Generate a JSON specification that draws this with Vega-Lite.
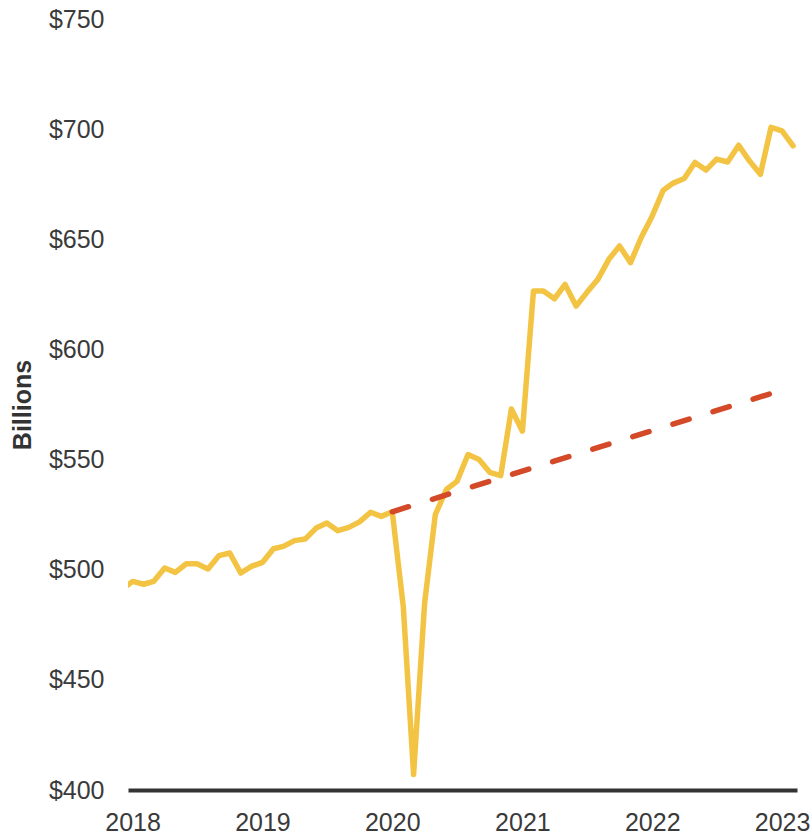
{
  "$schema": "https://vega.github.io/schema/vega-lite/v6.json",
  "width": 669,
  "height": 771,
  "autosize": {"type": "none"},
  "padding": {"left": 128, "top": 19, "right": 15, "bottom": 45},
  "background": "white",
  "config": {
    "view": {"stroke": null},
    "font": "Liberation Sans",
    "axis": {"labelColor": "#3a3a3a", "titleColor": "#333333", "labelFont": "Liberation Sans", "titleFont": "Liberation Sans"}
  },
  "datasets": {
    "actual": [
      {"date": "2017-12-01", "value": 491},
      {"date": "2018-01-01", "value": 494.7},
      {"date": "2018-02-01", "value": 493.4},
      {"date": "2018-03-01", "value": 494.7},
      {"date": "2018-04-01", "value": 500.8},
      {"date": "2018-05-01", "value": 498.8},
      {"date": "2018-06-01", "value": 502.7},
      {"date": "2018-07-01", "value": 502.7},
      {"date": "2018-08-01", "value": 500.3},
      {"date": "2018-09-01", "value": 506.4},
      {"date": "2018-10-01", "value": 507.6},
      {"date": "2018-11-01", "value": 498.5},
      {"date": "2018-12-01", "value": 501.5},
      {"date": "2019-01-01", "value": 503.3},
      {"date": "2019-02-01", "value": 509.5},
      {"date": "2019-03-01", "value": 510.6},
      {"date": "2019-04-01", "value": 513.2},
      {"date": "2019-05-01", "value": 513.9},
      {"date": "2019-06-01", "value": 518.9},
      {"date": "2019-07-01", "value": 521.2},
      {"date": "2019-08-01", "value": 517.7},
      {"date": "2019-09-01", "value": 519.2},
      {"date": "2019-10-01", "value": 521.7},
      {"date": "2019-11-01", "value": 526.1},
      {"date": "2019-12-01", "value": 524.2},
      {"date": "2020-01-01", "value": 526.3},
      {"date": "2020-02-01", "value": 483.3},
      {"date": "2020-03-01", "value": 407},
      {"date": "2020-04-01", "value": 484.8},
      {"date": "2020-05-01", "value": 525},
      {"date": "2020-06-01", "value": 536.4},
      {"date": "2020-07-01", "value": 540.1},
      {"date": "2020-08-01", "value": 552.3},
      {"date": "2020-09-01", "value": 550},
      {"date": "2020-10-01", "value": 544.2},
      {"date": "2020-11-01", "value": 542.7},
      {"date": "2020-12-01", "value": 573},
      {"date": "2021-01-01", "value": 562.9},
      {"date": "2021-02-01", "value": 626.5},
      {"date": "2021-03-01", "value": 626.5},
      {"date": "2021-04-01", "value": 623},
      {"date": "2021-05-01", "value": 629.5},
      {"date": "2021-06-01", "value": 619.7},
      {"date": "2021-07-01", "value": 625.8},
      {"date": "2021-08-01", "value": 631.8},
      {"date": "2021-09-01", "value": 640.9},
      {"date": "2021-10-01", "value": 647},
      {"date": "2021-11-01", "value": 639.4},
      {"date": "2021-12-01", "value": 650.8},
      {"date": "2022-01-01", "value": 660.6},
      {"date": "2022-02-01", "value": 672.3},
      {"date": "2022-03-01", "value": 675.5},
      {"date": "2022-04-01", "value": 677.6},
      {"date": "2022-05-01", "value": 684.9},
      {"date": "2022-06-01", "value": 681.4},
      {"date": "2022-07-01", "value": 686.4},
      {"date": "2022-08-01", "value": 685.1},
      {"date": "2022-09-01", "value": 692.7},
      {"date": "2022-10-01", "value": 685.6},
      {"date": "2022-11-01", "value": 679.5},
      {"date": "2022-12-01", "value": 700.8},
      {"date": "2023-01-01", "value": 699.2},
      {"date": "2023-02-01", "value": 692.4}
    ],
    "trend": [
      {"date": "2020-01-01", "value": 526.3},
      {"date": "2022-12-01", "value": 580}
    ]
  },
  "encoding": {
    "x": {
      "field": "date",
      "type": "temporal",
      "scale": {
        "type": "utc",
        "domain": [
          {"year": 2017, "month": 12, "date": 19, "utc": true},
          {"year": 2023, "month": 2, "date": 12, "utc": true}
        ]
      },
      "axis": {
        "title": null,
        "format": "%Y",
        "tickCount": {"interval": "year", "step": 1},
        "grid": false,
        "ticks": false,
        "domain": true,
        "domainColor": "#333333",
        "domainWidth": 4,
        "labelFontSize": 25,
        "labelPadding": 20,
        "labelOverlap": false,
        "labelFlush": false
      }
    },
    "y": {
      "field": "value",
      "type": "quantitative",
      "scale": {"domain": [400, 750], "nice": false, "zero": false},
      "axis": {
        "title": "Billions",
        "titleFontSize": 25,
        "titleFontWeight": "bold",
        "titlePadding": 13,
        "values": [400, 450, 500, 550, 600, 650, 700, 750],
        "format": "$.0f",
        "grid": false,
        "ticks": false,
        "domain": false,
        "labelFontSize": 25,
        "labelPadding": 24
      }
    }
  },
  "layer": [
    {
      "data": {"name": "actual"},
      "mark": {"type": "line", "color": "#F3C443", "strokeWidth": 5.5, "strokeCap": "round", "strokeJoin": "round", "clip": true}
    },
    {
      "data": {"name": "trend"},
      "mark": {"type": "line", "color": "#D44A28", "strokeWidth": 5.5, "strokeCap": "round", "strokeDash": [17, 25], "clip": true}
    }
  ]
}
